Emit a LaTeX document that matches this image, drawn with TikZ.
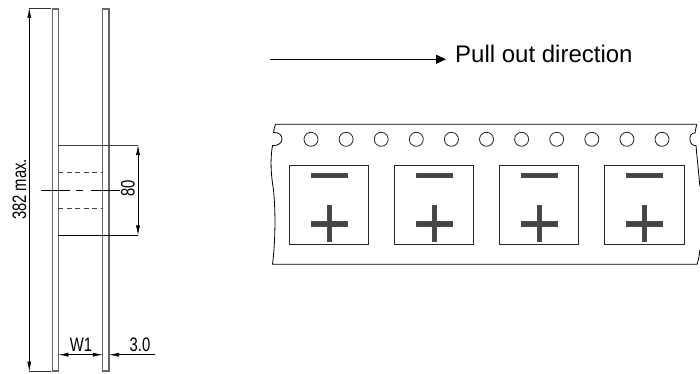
\documentclass[tikz,border=0pt]{standalone}
\usepackage{fontspec}
\setmainfont{Liberation Sans}
\usepackage{xcolor}
\usetikzlibrary{arrows.meta}
\definecolor{barfill}{HTML}{444444}
\newcommand{\dimtext}[1]{\scalebox{0.76}[1]{#1}}
\tikzset{
  flange/.style={draw=black!60,line width=1.1pt},
  hubline/.style={draw=black!75,line width=0.9pt},
  dashline/.style={draw=black!75,line width=0.7pt,dash pattern=on 5pt off 3.5pt},
  dimline/.style={draw=black,line width=0.6pt,{Latex[length=10pt,width=4pt]}-{Latex[length=10pt,width=4pt]}},
  extline/.style={draw=black!80,line width=0.7pt},
  tapeline/.style={draw=black,line width=0.8pt},
  dimlabel/.style={inner sep=0pt,font=\fontsize{19.5}{19.5}\selectfont},
  barmark/.style={fill=barfill,draw=black!70,line width=0.3pt},
}
\begin{document}
\begin{tikzpicture}[x=1pt,yscale=-1,y=1pt]
    \useasboundingbox (0,0) rectangle (700,374);
    % reel
    \draw[flange] (52.3,9) rectangle (58.3,371);
    \draw[flange] (102.8,9) rectangle (109,371);
    \draw[hubline] (58,145) -- (138,145);
    \draw[hubline,black,line width=0.7pt] (58,235.3) -- (138,235.3);
    \draw[dashline] (58.3,172) -- (102.8,172);
    \draw[dashline] (58.3,208.7) -- (102.8,208.7);
    \draw[black,line width=0.7pt,dash pattern=on 29.3pt off 6pt on 7pt off 8pt on 29pt] (40.7,190) -- (120,190);
    % dimensions
    \coordinate (top) at (29.3,8);
    \coordinate (bot) at (29.3,371.5);
    \coordinate (hubtop) at (138,145);
    \coordinate (hubbot) at (138,235.3);
    \draw[extline] (top) -- (51,8);
    \draw[extline] (bot) -- (51,371.5);
    \draw[dimline] (top) -- (bot);
    \draw[dimline] (hubtop) -- (hubbot);
    \node[dimlabel,rotate=90] (reach) at (19.5,189.5) {\dimtext{382 max.}};
    \node[dimlabel,rotate=90] (hub) at (128,188) {\dimtext{80}};
    \node[dimlabel] (wone) at (81,345) {\dimtext{W1}};
    \node[dimlabel] (thick) at (140,345) {\dimtext{3.0}};
    \coordinate (wl) at (58.3,354.7);
    \coordinate (wr) at (102.8,354.7);
    \coordinate (tl) at (109,354.7);
    \draw[dimline] (wl) -- (wr);
    \draw[black,line width=0.6pt,{Latex[length=10pt,width=4pt]}-] (tl) -- (155,354.7);
    % direction
    \node[anchor=west,inner sep=0pt,font=\fontsize{24}{24}\selectfont] (pull) at (455,54) {Pull out direction};
    \coordinate (pullstart) at (270,59.3);
    \draw[black,line width=0.8pt,-{Triangle[length=10pt,width=9pt]}] (pullstart) -- (446,59.3);
    % tape
    \draw[tapeline] (696.7,124.3) -- (275.5,124.3)
      .. controls (274.5,127) and (274,129) .. (273.5,132.5)
      .. controls (285,131.5) and (285,146.5) .. (272.5,145.5)
      .. controls (270,160) and (271,175) .. (273.5,190)
      .. controls (276,215) and (275,245) .. (272.5,264.3)
      -- (697,264.3)
      .. controls (698.5,260) and (699.5,255) .. (699.8,250);
    \draw[tapeline] (699.8,186) .. controls (698.5,170) and (697,158) .. (696,145.5)
      .. controls (688,146.5) and (688,132) .. (695,133)
      .. controls (695.5,130) and (696,127) .. (696.7,124.3);
    \foreach \holex in {311,346.1,381.2,416.3,451.4,486.5,521.6,556.7,591.8,626.9,662}
      \draw[black!85,line width=0.8pt] (\holex,139.3) circle [radius=7];
    \foreach \cx in {329,434,539,644.3} {
      \draw[black!85,line width=0.8pt] (\cx-39.7,165.3) rectangle (\cx+39.7,244.3);
      \draw[barmark] (\cx-18,173.3) rectangle (\cx+18,177.3);
      \draw[barmark] (\cx-18,221.3) rectangle (\cx+18,225.7);
      \draw[barmark] (\cx-2.2,205.3) rectangle (\cx+2.2,241.3);
    }
\end{tikzpicture}
\end{document}
